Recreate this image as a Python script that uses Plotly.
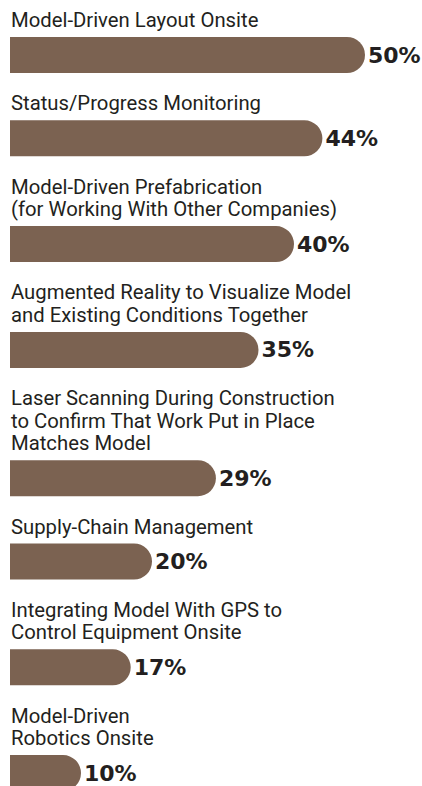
import plotly.graph_objects as go

# ---- data ----
label_lines = [
    ["Model-Driven Layout Onsite"],
    ["Status/Progress Monitoring"],
    ["Model-Driven Prefabrication", "(for Working With Other Companies)"],
    ["Augmented Reality to Visualize Model", "and Existing Conditions Together"],
    ["Laser Scanning During Construction", "to Confirm That Work Put in Place", "Matches Model"],
    ["Supply-Chain Management"],
    ["Integrating Model With GPS to", "Control Equipment Onsite"],
    ["Model-Driven", "Robotics Onsite"],
]
values = [50, 44, 40, 35, 29, 20, 17, 10]

# ---- layout helpers (pixel-based vertical axis) ----
W, H = 422, 786
BAR_H = 36
LINE_H = 22.5
BASE_STEP = 60.8
FIRST_CENTER = 55
LEFT_PX = 10
PX_PER_PCT = 7.1

centers = []
c = FIRST_CENTER
for i, lines in enumerate(label_lines):
    if i > 0:
        c = c + BASE_STEP + LINE_H * len(lines)
    centers.append(c)

BAR_COLOR = "#7b6251"
TEXT_COLOR = "#231f20"

fig = go.Figure()
fig.add_trace(go.Bar(
    x=values,
    y=centers,
    orientation="h",
    width=BAR_H,
    marker=dict(color=BAR_COLOR, cornerradius="50%", line=dict(width=0)),
    text=[f"{v}%" for v in values],
    textposition="outside",
    constraintext="none",
    cliponaxis=False,
    outsidetextfont=dict(family="DejaVu Sans", size=22, color=TEXT_COLOR, weight="bold"),
    hoverinfo="skip",
))

annotations = []
for lines, cy in zip(label_lines, centers):
    top = cy - BAR_H / 2
    n = len(lines)
    for j, line in enumerate(lines):
        annotations.append(dict(
            x=0, y=top - 17 - (n - 1 - j) * LINE_H,
            xref="x", yref="y",
            text=line, showarrow=False,
            xanchor="left", yanchor="middle",
            borderpad=0,
            font=dict(family="Roboto, sans-serif", size=20.3, color=TEXT_COLOR),
        ))

fig.update_layout(
    width=W, height=H,
    margin=dict(l=0, r=0, t=0, b=0),
    paper_bgcolor="white", plot_bgcolor="white",
    showlegend=False,
    annotations=annotations,
    xaxis=dict(range=[-LEFT_PX / PX_PER_PCT, (W - LEFT_PX) / PX_PER_PCT],
               visible=False, fixedrange=True),
    yaxis=dict(range=[H, 0], visible=False, fixedrange=True),
)

fig.write_html(
    "out.html",
    config={"displayModeBar": False, "staticPlot": True},
    post_script="document.body.style.margin='0';document.body.style.overflow='hidden';",
)
